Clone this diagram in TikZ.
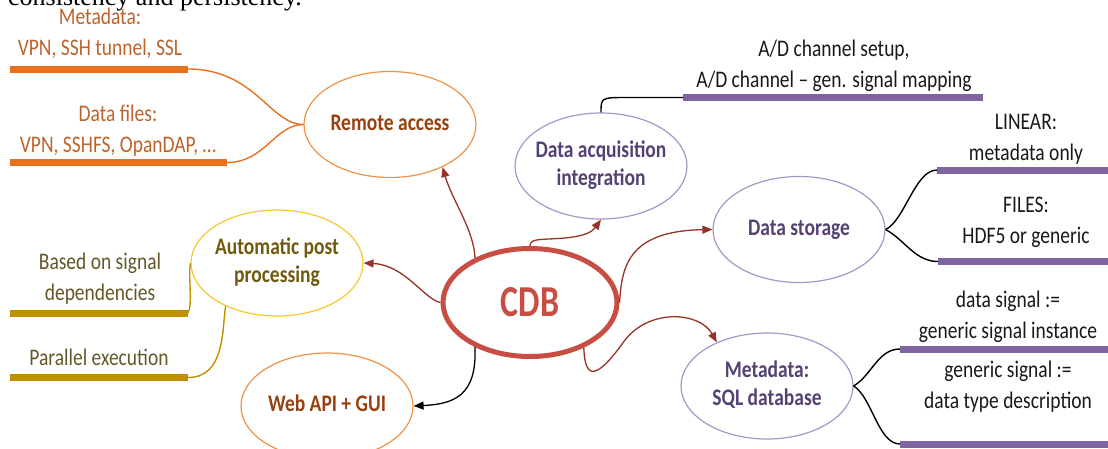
\documentclass[tikz,border=0pt]{standalone}
\usepackage{fontspec}
\setmainfont{Carlito}
\newfontfamily\capfont{Liberation Serif}
\usepackage{graphicx}
\usetikzlibrary{shapes.geometric,arrows.meta}

\definecolor{orst}{RGB}{240,146,70}
\definecolor{orbar}{RGB}{233,113,30}
\definecolor{ortxt}{RGB}{188,100,45}
\definecolor{remtxt}{RGB}{150,65,15}
\definecolor{yelst}{RGB}{245,200,50}
\definecolor{olbar}{RGB}{191,144,0}
\definecolor{oltxt}{RGB}{100,88,40}
\definecolor{autotxt}{RGB}{112,90,15}
\definecolor{purst}{RGB}{165,150,200}
\definecolor{purbar}{RGB}{128,100,162}
\definecolor{purtxt}{RGB}{85,65,115}
\definecolor{cdbred}{RGB}{200,78,68}
\definecolor{arrred}{RGB}{150,50,40}
\definecolor{lftxt}{RGB}{25,25,25}

\newcommand\stk[1]{\scalebox{1}[1.22]{\begin{tabular}{@{}c@{}}#1\end{tabular}}}
\newcommand\stkb[1]{\scalebox{1}[1.22]{\begin{tabular}[b]{@{}c@{}}#1\end{tabular}}}

\tikzset{
  bubble/.style={ellipse, draw, line width=1.2pt, minimum width=172pt, minimum height=106pt,
    inner xsep=-10pt, inner ysep=0pt, font=\fontsize{19.5}{23}\selectfont\bfseries},
  leaf/.style={anchor=base, inner sep=0pt, font=\fontsize{19.5}{24.6}\selectfont},
  bar/.style={line width=7pt},
  conn/.style={line width=1.4pt},
  arr/.style={line width=1.3pt, -{Triangle[length=10pt,width=8pt]}},
}

\begin{document}
\begin{tikzpicture}[x=1pt,y=-1pt]
\useasboundingbox (0,0) rectangle (1108,448);
\clip (0,0) rectangle (1108,448);

% caption fragment
\node[anchor=base east, inner sep=0pt, font=\capfont\fontsize{26}{30}\selectfont] (cap) at (302,5.5) {consistency and persistency.};

% bubbles
\node[bubble, draw=orst, text=remtxt] (remote) at (390,124.5) {\stk{Remote access}};
\node[bubble, draw=purst, text=purtxt] (acq) at (601,166) {\stk{Data acquisition\\integration}};
\node[bubble, draw=purst, text=purtxt] (storage) at (799,229.5) {\stk{Data storage}};
\node[bubble, draw=purst, text=purtxt] (meta) at (767,386) {\stk{Metadata:\\SQL database}};
\node[bubble, draw=yelst, text=autotxt] (auto) at (277,263) {\stk{Automatic post\\processing}};
\node[bubble, draw=orst, text=remtxt] (web) at (327,406) {\stk{Web API + GUI}};
\node[bubble, draw=cdbred, line width=5pt, minimum width=174pt, minimum height=108pt,
  text=cdbred, font=\fontsize{34}{40}\selectfont\bfseries] (cdb) at (530,302.5) {\scalebox{1}[1.3]{CDB}};

% bar coordinates
\coordinate (m1s) at (10,69);     \coordinate (m1e) at (188,69);
\coordinate (m2s) at (10,162.5);  \coordinate (m2e) at (227,162.5);
\coordinate (a1s) at (10,313);    \coordinate (a1e) at (188,313);
\coordinate (a2s) at (10,377.5);  \coordinate (a2e) at (188,377.5);
\coordinate (ads) at (683,97.5);  \coordinate (ade) at (983,97.5);
\coordinate (lis) at (937,170);   \coordinate (lie) at (1115,170);
\coordinate (fis) at (938,261.5); \coordinate (fie) at (1115,261.5);
\coordinate (dss) at (900,349);   \coordinate (dse) at (1115,349);
\coordinate (gss) at (900,444);   \coordinate (gse) at (1115,444);

% bars
\draw[bar, orbar] (m1s) -- (m1e);
\draw[bar, orbar] (m2s) -- (m2e);
\draw[bar, olbar] (a1s) -- (a1e);
\draw[bar, olbar] (a2s) -- (a2e);
\draw[bar, purbar] (ads) -- (ade);
\draw[bar, purbar] (lis) -- (lie);
\draw[bar, purbar] (fis) -- (fie);
\draw[bar, purbar] (dss) -- (dse);
\draw[bar, purbar] (gss) -- (gse);

% leaf texts
\node[leaf, text=ortxt] (t1) at (100,55) {\stkb{Metadata:\\VPN, SSH tunnel, SSL}};
\node[leaf, text=ortxt] (t2) at (118,152) {\stkb{Data files:\\VPN, SSHFS, OpanDAP, …}};
\node[leaf, text=oltxt] (t3) at (100,300) {\stkb{Based on signal\\dependencies}};
\node[leaf, text=oltxt] (t4) at (99,365) {\stkb{Parallel execution}};
\node[leaf, text=lftxt] (t5) at (834,87) {\stkb{A/D channel setup,\\A/D channel -- gen. signal mapping}};
\node[leaf, text=lftxt] (t6) at (1026,160) {\stkb{LINEAR:\\metadata only}};
\node[leaf, text=lftxt] (t7) at (1026,243) {\stkb{FILES:\\HDF5 or generic}};
\node[leaf, text=lftxt] (t8) at (1008,338) {\stkb{data signal :=\\generic signal instance}};
\node[leaf, text=lftxt] (t9) at (1008,408) {\stkb{generic signal :=\\data type description}};

% leaf connectors
\draw[conn, orbar] (m1e) .. controls (255,69) and (270,124.5) .. (remote.west);
\draw[conn, orbar] (m2e) .. controls (265,162.5) and (275,124.5) .. (remote.west);
\draw[conn, olbar] (a1e) .. controls (193,305) and (188,275) .. (auto.west);
\draw[conn, olbar] (a2e) .. controls (225,377.5) and (222,330) .. (auto.220);
\draw[conn, black] (acq.north) .. controls (601,97.5) .. (628,97.5) -- (ads);
\draw[conn, black] (storage.east) .. controls (905,220) and (915,170) .. (lis);
\draw[conn, black] (storage.east) .. controls (905,240) and (915,261.5) .. (fis);
\draw[conn, black] (meta.east) .. controls (872,375) and (878,349) .. (dss);
\draw[conn, black] (meta.east) .. controls (872,397) and (878,444) .. (gss);

% CDB arrows
\draw[arr, arrred] (cdb.141) .. controls (474,230) and (452,200) .. (remote.-39);
\draw[arr, arrred] (cdb.west) .. controls (425,300) and (405,265) .. (auto.east);
\draw[arr, black] (cdb.-141) .. controls (477,395) and (455,404) .. (web.east);
\draw[arr, arrred] (cdb.north) .. controls (530,238) and (540,240) .. (565,238) .. controls (585,236) and (592,232) .. (acq.south);
\draw[arr, arrred] (cdb.east) .. controls (622,270) and (625,231) .. (storage.west);
\draw[arr, arrred] (cdb.-40) .. controls (585,385) and (600,375) .. (625,340) .. controls (650,308) and (700,312) .. (meta.139);
\end{tikzpicture}
\end{document}
